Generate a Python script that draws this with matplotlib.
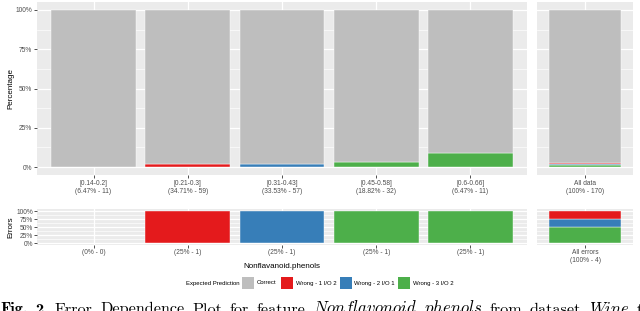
import matplotlib
matplotlib.use("Agg")
import matplotlib.pyplot as plt
import numpy as np
from matplotlib.patches import Rectangle

# bins of Nonflavanoid.phenols and counts per expected-prediction class
bins = ["[0.14-0.2]", "[0.21-0.3]", "[0.31-0.43]", "[0.45-0.58]", "[0.6-0.66]"]
correct = [11, 58, 56, 31, 10]
wrong1 = [0, 1, 0, 0, 0]
wrong2 = [0, 0, 1, 0, 0]
wrong3 = [0, 0, 0, 1, 1]

classes = ["Correct", "Wrong - 1 I/O 2", "Wrong - 2 I/O 1", "Wrong - 3 I/O 2"]
colors = ["#BEBEBE", "#E41A1C", "#377EB8", "#4DAF4A"]

W, H = 640, 311
BG = "#EBEBEB"
TXT = "#4D4D4D"
plt.rcParams["font.family"] = ["Liberation Sans", "DejaVu Sans"]
plt.rcParams["mathtext.fontset"] = "cm"

fig = plt.figure(figsize=(W / 100, H / 100), dpi=100)


def px_axes(x0, x1, y0, y1):
    return fig.add_axes([x0 / W, 1 - y1 / H, (x1 - x0) / W, (y1 - y0) / H])


def style(ax, nx, labels, ylabels):
    ax.set_facecolor(BG)
    for s in ax.spines.values():
        s.set_visible(False)
    ax.set_xlim(-0.6, nx - 1 + 0.6)
    ax.set_ylim(-0.05, 1.05)
    ax.set_yticks([0, 0.25, 0.5, 0.75, 1.0])
    ax.set_yticks([0.125, 0.375, 0.625, 0.875], minor=True)
    ax.set_yticklabels(ylabels)
    ax.set_xticks(range(nx))
    ax.set_xticklabels(labels)
    ax.grid(True, which="major", color="white", lw=0.9)
    ax.grid(True, which="minor", axis="y", color="white", lw=0.45)
    ax.set_axisbelow(True)
    ax.tick_params(which="major", length=2, width=0.6, color="#333333",
                   labelsize=4.8, labelcolor=TXT, pad=1.5)
    ax.tick_params(which="minor", length=0)


def stack(ax, x, parts):
    # bottom-up: wrong3, wrong2, wrong1, correct
    bottom = 0
    for idx in [3, 2, 1, 0]:
        v = parts[idx]
        if v > 0:
            ax.bar(x, v, 0.9, bottom=bottom, color=colors[idx],
                   edgecolor="white", linewidth=0.3)
        bottom += v


ylab = ["0%", "25%", "50%", "75%", "100%"]
n_total = [c + a + b + d for c, a, b, d in zip(correct, wrong1, wrong2, wrong3)]
N = sum(n_total)
top_labels = ["%s\n(%.2f%% - %d)" % (b, 100 * n / N, n) for b, n in zip(bins, n_total)]

ax1 = px_axes(37, 527, 2.15, 174.85)
style(ax1, 5, top_labels, ylab)
for i in range(5):
    t = n_total[i]
    stack(ax1, i, [correct[i] / t, wrong1[i] / t, wrong2[i] / t, wrong3[i] / t])
ax1.set_ylabel("Percentage", fontsize=5.8)

ax2 = px_axes(537, 633, 2.15, 174.85)
style(ax2, 1, ["All data\n(100%% - %d)" % N], ylab)
ax2.tick_params(axis="y", length=0, labelleft=False)
stack(ax2, 0, [sum(correct) / N, sum(wrong1) / N, sum(wrong2) / N, sum(wrong3) / N])

# errors panel
err = [a + b + d for a, b, d in zip(wrong1, wrong2, wrong3)]
E = sum(err)
err_labels = ["(%d%% - %d)" % (round(100 * e / E), e) for e in err]

ax3 = px_axes(37, 527, 209.4, 244.6)
style(ax3, 5, err_labels, ylab)
ax3.tick_params(axis="y", labelsize=4.8, pad=1)
for i in range(5):
    if err[i] > 0:
        stack(ax3, i, [0, wrong1[i] / err[i], wrong2[i] / err[i], wrong3[i] / err[i]])
ax3.set_ylabel("Errors", fontsize=5.8)
ax3.yaxis.set_label_coords(-0.047, 0.5)
ax1.yaxis.set_label_coords(-0.047, 0.5)

ax4 = px_axes(537, 633, 209.4, 244.6)
style(ax4, 1, ["All errors\n(100%% - %d)" % E], ylab)
ax4.tick_params(axis="y", length=0, labelleft=False)
stack(ax4, 0, [0, sum(wrong1) / E, sum(wrong2) / E, sum(wrong3) / E])

fig.text(282 / W, 1 - 266 / H, "Nonflavanoid.phenols", fontsize=5.8,
         ha="center", va="center", color="black")

# legend
ly = 283
fig.text(186 / W, 1 - ly / H, "Expected Prediction", fontsize=4.3,
         ha="left", va="center", color="black")
sw_x = [242, 281, 340, 398]
tx_x = [257, 296, 354, 413]
for c, lab, sx, tx in zip(colors, classes, sw_x, tx_x):
    fig.patches.append(Rectangle((sx / W, 1 - 289 / H), 11.5 / W, 12 / H,
                                 transform=fig.transFigure, facecolor=c,
                                 edgecolor="none"))
    fig.text(tx / W, 1 - ly / H, lab, fontsize=4.3, ha="left", va="center",
             color="black")

# caption, cut off by the bottom edge of the image as in the source
words = [("Fig.", "cmb10"), ("2.", "cmb10"), ("Error", "cmr10"),
         ("Dependence", "cmr10"), ("Plot", "cmr10"), ("for", "cmr10"),
         ("feature", "cmr10"), (r"$\mathit{Nonflavonoid}$", None),
         (r"$\mathit{phenols}$", None), ("from", "cmr10"),
         ("dataset", "cmr10"), (r"$\mathit{Wine}$", None),
         ("trained", "cmr10")]
fig.canvas.draw()
r = fig.canvas.get_renderer()
x = 0.0
for s, fam in words:
    kw = {"family": fam} if fam else {}
    size = 11.7 if fam else 12.0
    t = fig.text(x / W, 1 - 313.5 / H, s, fontsize=size, ha="left",
                 va="baseline", color="black", **kw)
    bb = t.get_window_extent(renderer=r)
    x += bb.width + 7.5

fig.savefig("out.png", dpi=100)
